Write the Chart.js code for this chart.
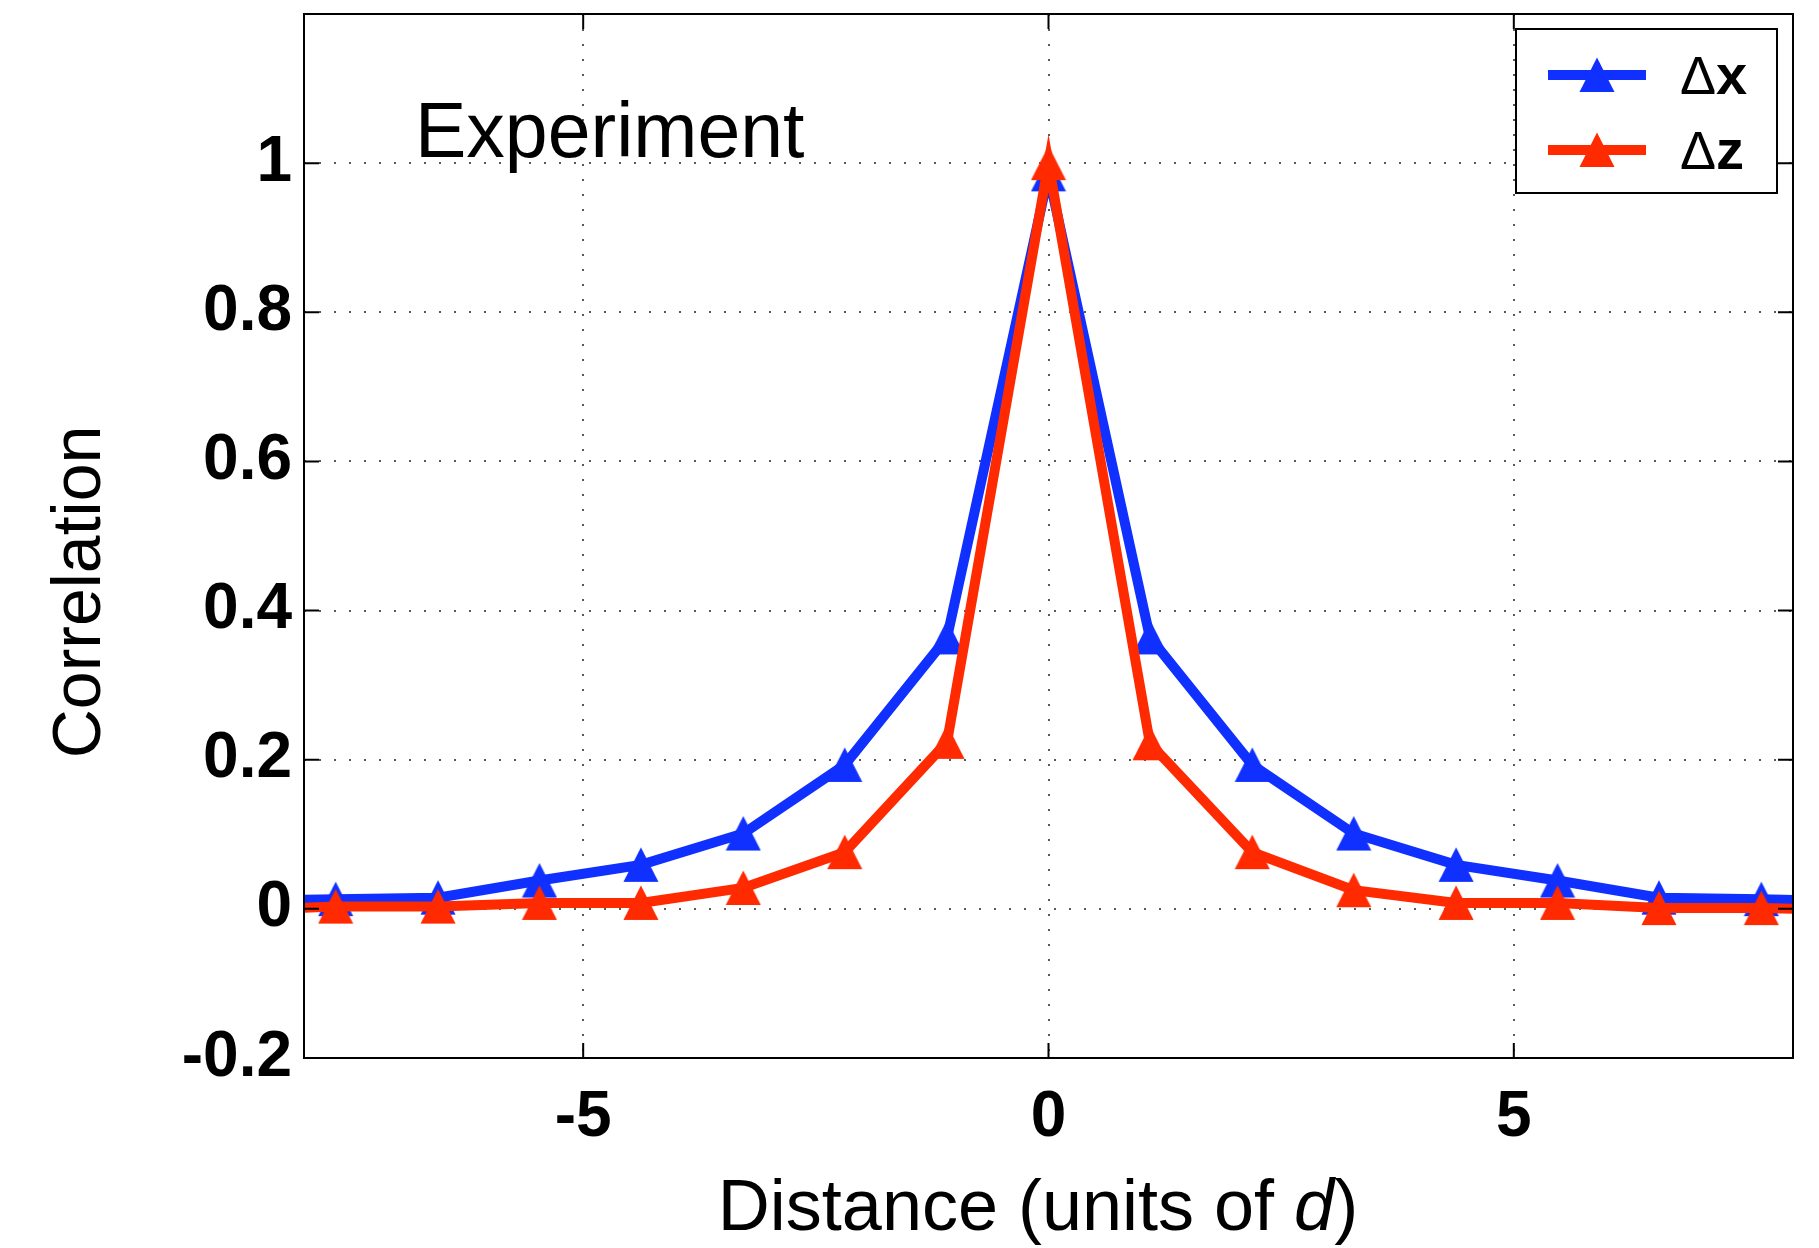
<!DOCTYPE html>
<html>
<head>
<meta charset="utf-8">
<script src="https://cdn.jsdelivr.net/npm/chart.js@4.4.0/dist/chart.umd.min.js"></script>
<style>
  html, body { margin: 0; padding: 0; background: #fff; }
  #wrap { width: 1819px; height: 1248px; }
</style>
</head>
<body>
<div id="wrap"><canvas id="graph1" width="1819" height="1248"></canvas></div>
<script>
// distance from the reference site (units of d); outer points run past the frame
var distance = [-8.75, -7.66, -6.56, -5.47, -4.38, -3.28, -2.19, -1.09, 0, 1.09, 2.19, 3.28, 4.38, 5.47, 6.56, 7.66, 8.75];
var corrX = [0.010, 0.013, 0.015, 0.038, 0.059, 0.101, 0.193, 0.364, 0.985, 0.364, 0.193, 0.101, 0.059, 0.038, 0.015, 0.013, 0.009];
var corrZ = [-0.002, 0.003, 0.003, 0.008, 0.008, 0.028, 0.076, 0.224, 1.0, 0.222, 0.076, 0.025, 0.008, 0.008, 0.001, 0.001, -0.002];
var seriesNames = ['Δx', 'Δz'];
var xTicks = [-5, 0, 5];
var yTicks = [-0.2, 0, 0.2, 0.4, 0.6, 0.8, 1];

var blue = '#0f30ff';
var red = '#ff2a00';
var FONT = '"Liberation Sans", Arial, sans-serif';

function triangle(color) {
  var c = document.createElement('canvas');
  c.width = 36; c.height = 36;
  var g = c.getContext('2d');
  g.fillStyle = color;
  g.beginPath();
  g.moveTo(18, 0.5);
  g.lineTo(35.5, 35);
  g.lineTo(0.5, 35);
  g.closePath();
  g.fill();
  return c;
}

function points(ys) {
  return distance.map(function (x, i) { return {x: x, y: ys[i]}; });
}

var decor = {
  id: 'decor',
  afterDatasetsDraw: function (chart) {
    var ctx = chart.ctx, a = chart.chartArea;
    var xs = chart.scales.x, ys = chart.scales.y;
    ctx.save();
    // frame and inward ticks
    ctx.strokeStyle = '#000';
    ctx.lineWidth = 2;
    ctx.strokeRect(a.left, a.top, a.right - a.left, a.bottom - a.top);
    ctx.beginPath();
    xTicks.forEach(function (v) {
      var p = xs.getPixelForValue(v);
      ctx.moveTo(p, a.bottom); ctx.lineTo(p, a.bottom - 15);
      ctx.moveTo(p, a.top); ctx.lineTo(p, a.top + 15);
    });
    yTicks.forEach(function (v) {
      var p = ys.getPixelForValue(v);
      ctx.moveTo(a.left, p); ctx.lineTo(a.left + 15, p);
      ctx.moveTo(a.right, p); ctx.lineTo(a.right - 15, p);
    });
    ctx.stroke();

    // Experiment label
    ctx.fillStyle = '#000';
    ctx.font = '77px ' + FONT;
    ctx.textAlign = 'left';
    ctx.textBaseline = 'alphabetic';
    ctx.fillText('Experiment', a.left + 111, a.top + 143);

    // legend
    var lx = a.right - 277, ly = a.top + 15;
    ctx.fillStyle = '#fff';
    ctx.fillRect(lx, ly, 261, 164);
    ctx.strokeRect(lx, ly, 261, 164);
    var cols = [blue, red];
    for (var i = 0; i < 2; i++) {
      var cy = ly + 46 + i * 75;
      ctx.strokeStyle = cols[i];
      ctx.lineWidth = 10;
      ctx.beginPath();
      ctx.moveTo(lx + 32, cy); ctx.lineTo(lx + 130, cy);
      ctx.stroke();
      ctx.drawImage(triangle(cols[i]), lx + 63, cy - 18);
      ctx.fillStyle = '#000';
      ctx.font = '54px ' + FONT;
      var name = seriesNames[i];
      ctx.fillText(name.charAt(0), lx + 164, cy + 19);
      var w = ctx.measureText(name.charAt(0)).width;
      ctx.font = 'bold 56px ' + FONT;
      ctx.fillText(name.slice(1), lx + 164 + w, cy + 19);
    }

    // axis titles
    ctx.fillStyle = '#000';
    ctx.font = '72px ' + FONT;
    var t1 = 'Distance (units of ', t2 = 'd', t3 = ')';
    var w1 = ctx.measureText(t1).width, w3 = ctx.measureText(t3).width;
    ctx.font = 'italic 72px ' + FONT;
    var w2 = ctx.measureText(t2).width;
    var sx = 1038 - (w1 + w2 + w3) / 2;
    ctx.font = '72px ' + FONT;
    ctx.fillText(t1, sx, 1230);
    ctx.font = 'italic 72px ' + FONT;
    ctx.fillText(t2, sx + w1, 1230);
    ctx.font = '72px ' + FONT;
    ctx.fillText(t3, sx + w1 + w2, 1230);

    ctx.translate(81, 592);
    ctx.rotate(-Math.PI / 2);
    ctx.font = '68px ' + FONT;
    ctx.textAlign = 'center';
    ctx.textBaseline = 'middle';
    ctx.fillText('Correlation', 0, 0);
    ctx.restore();
  }
};

var context = document.getElementById('graph1').getContext('2d');
var chart = new Chart(context, {
  type: 'line',
  data: {
    datasets: [{
      label: seriesNames[0],
      data: points(corrX),
      borderColor: blue,
      backgroundColor: blue,
      borderWidth: 10,
      pointStyle: triangle(blue),
      pointRadius: 18,
      clip: 0,
      order: 2
    }, {
      label: seriesNames[1],
      data: points(corrZ),
      borderColor: red,
      backgroundColor: red,
      borderWidth: 10,
      pointStyle: triangle(red),
      pointRadius: 18,
      clip: 0,
      order: 1
    }]
  },
  options: {
    responsive: false,
    animation: false,
    layout: { autoPadding: false, padding: { left: 0, top: 14, right: 26, bottom: 0 } },
    plugins: { legend: { display: false }, tooltip: { enabled: false } },
    elements: { line: { tension: 0 } },
    scales: {
      x: {
        type: 'linear',
        min: -8, max: 8,
        afterBuildTicks: function (s) { s.ticks = xTicks.map(function (v) { return {value: v}; }); },
        afterFit: function (s) { s.height = 190; s.paddingLeft = 0; s.paddingRight = 0; },
        grid: { color: 'rgba(0,0,0,0.65)', lineWidth: 2, drawTicks: false },
        border: { display: false, dash: [2, 13] },
        ticks: {
          color: '#000', padding: 22, maxRotation: 0,
          font: { family: FONT, size: 64, weight: 'bold' },
          callback: function (v) { return String(v); }
        }
      },
      y: {
        min: -0.2, max: 1.2,
        afterBuildTicks: function (s) { s.ticks = yTicks.map(function (v) { return {value: v}; }); },
        afterFit: function (s) { s.width = 304; s.paddingTop = 0; s.paddingBottom = 0; },
        grid: { color: 'rgba(0,0,0,0.65)', lineWidth: 2, drawTicks: false },
        border: { display: false, dash: [2, 13] },
        ticks: {
          color: '#000', padding: 12,
          font: { family: FONT, size: 64, weight: 'bold' },
          callback: function (v) { return String(v); }
        }
      }
    }
  },
  plugins: [decor]
});
</script>
</body>
</html>
